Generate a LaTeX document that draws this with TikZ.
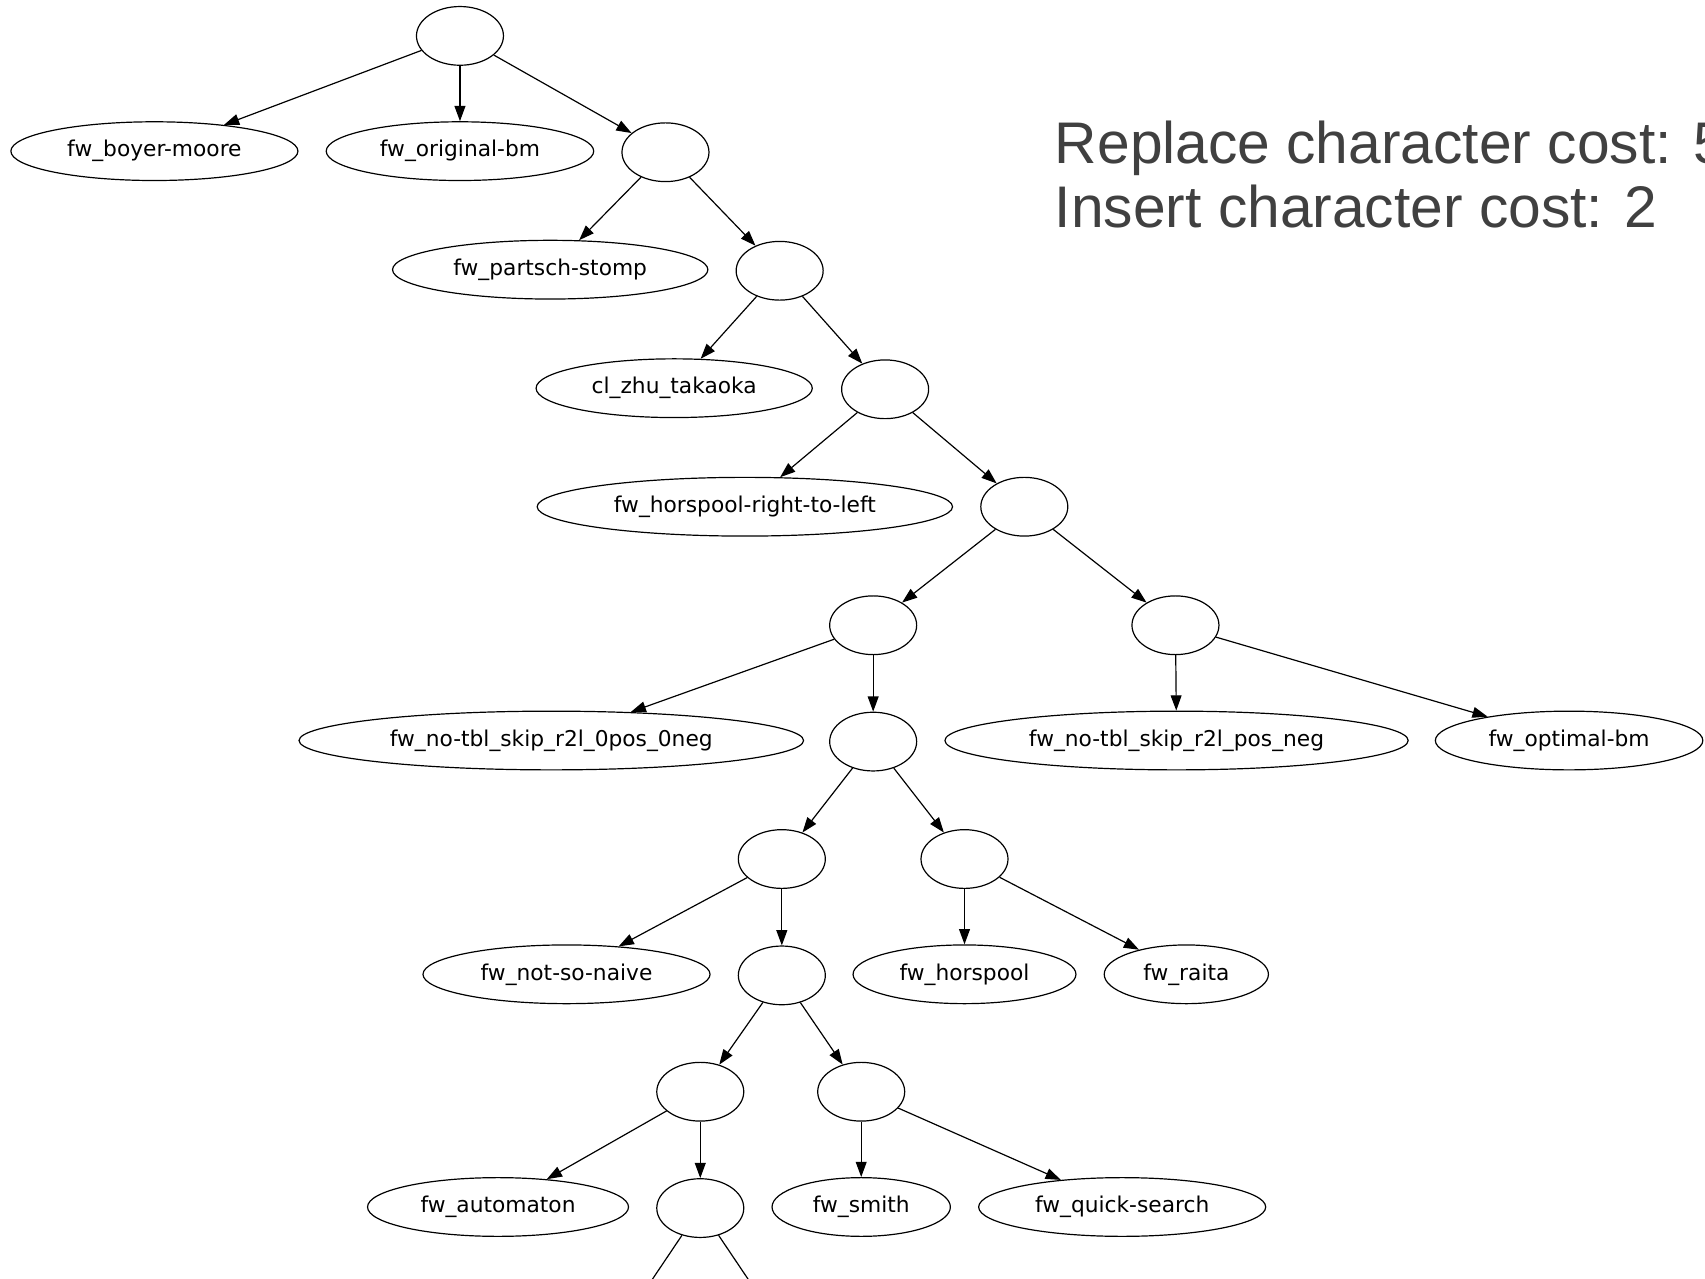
\documentclass[tikz,border=0pt]{standalone}
\usepackage{fontspec}
\setmainfont{DejaVu Sans}
\newfontfamily\bigfont{Liberation Sans}
\usetikzlibrary{shapes.geometric,arrows.meta}
\definecolor{captxt}{HTML}{404040}
\tikzset{
  lbl/.style={draw, ellipse, minimum height=54pt, inner sep=0pt, line width=1.1pt, font=\fontsize{20}{24}\selectfont},
  blank/.style={draw, ellipse, minimum width=80pt, minimum height=54pt, inner sep=0pt, line width=1.1pt},
  edge/.style={line width=1.1pt, -{Triangle[length=14pt,width=10pt]}},
  captext/.style={anchor=base west, inner sep=0pt, text=captxt, font=\bigfont\fontsize{54}{60}\selectfont}
}
\begin{document}
\begin{tikzpicture}[x=1pt,y=-1pt]
\useasboundingbox (0,0) rectangle (1568,1176);
\clip (0,0) rectangle (1568,1176);
\node[blank] (root) at (423,33) {};
\node[lbl, minimum width=264pt] (bm) at (142,139) {fw\_boyer-moore};
\node[lbl, minimum width=246pt] (ob) at (423,139) {fw\_original-bm};
\node[blank] (n2) at (612,140) {};
\node[lbl, minimum width=290pt] (ps) at (506,248) {fw\_partsch-stomp};
\node[blank] (n3) at (717,249) {};
\node[lbl, minimum width=254pt] (zt) at (620,357) {cl\_zhu\_takaoka};
\node[blank] (n4) at (814,358) {};
\node[lbl, minimum width=382pt] (hr) at (685,466) {fw\_horspool-right-to-left};
\node[blank] (n5) at (942,466) {};
\node[blank] (n6) at (803,575) {};
\node[blank] (n7) at (1081,575) {};
\node[lbl, minimum width=464pt] (nt0) at (507,681) {fw\_no-tbl\_skip\_r2l\_0pos\_0neg};
\node[blank] (n8) at (803,682) {};
\node[lbl, minimum width=426pt] (ntp) at (1082,681) {fw\_no-tbl\_skip\_r2l\_pos\_neg};
\node[lbl, minimum width=246pt] (opt) at (1443,681) {fw\_optimal-bm};
\node[blank] (n9) at (719,790) {};
\node[blank] (n10) at (887,790) {};
\node[lbl, minimum width=264pt] (nsn) at (521,896) {fw\_not-so-naive};
\node[blank] (n11) at (719,897) {};
\node[lbl, minimum width=205pt] (hp) at (887,896) {fw\_horspool};
\node[lbl, minimum width=151pt] (raita) at (1091,896) {fw\_raita};
\node[blank] (n12) at (644,1004) {};
\node[blank] (n13) at (792,1004) {};
\node[lbl, minimum width=240pt] (auto) at (458,1110) {fw\_automaton};
\node[blank] (n14) at (644,1111) {};
\node[lbl, minimum width=164pt] (smith) at (792,1110) {fw\_smith};
\node[lbl, minimum width=264pt] (qs) at (1032,1110) {fw\_quick-search};
\coordinate (c1) at (572,1218);
\coordinate (c2) at (716,1218);
\draw[edge] (root) -- (bm);
\draw[edge] (root) -- (ob);
\draw[edge] (root) -- (n2);
\draw[edge] (n2) -- (ps);
\draw[edge] (n2) -- (n3);
\draw[edge] (n3) -- (zt);
\draw[edge] (n3) -- (n4);
\draw[edge] (n4) -- (hr);
\draw[edge] (n4) -- (n5);
\draw[edge] (n5) -- (n6);
\draw[edge] (n5) -- (n7);
\draw[edge] (n6) -- (nt0);
\draw[edge] (n6) -- (n8);
\draw[edge] (n7) -- (ntp);
\draw[edge] (n7) -- (opt);
\draw[edge] (n8) -- (n9);
\draw[edge] (n8) -- (n10);
\draw[edge] (n9) -- (nsn);
\draw[edge] (n9) -- (n11);
\draw[edge] (n10) -- (hp);
\draw[edge] (n10) -- (raita);
\draw[edge] (n11) -- (n12);
\draw[edge] (n11) -- (n13);
\draw[edge] (n12) -- (auto);
\draw[edge] (n12) -- (n14);
\draw[edge] (n13) -- (smith);
\draw[edge] (n13) -- (qs);
\draw[line width=1.1pt] (n14) -- (c1);
\draw[line width=1.1pt] (n14) -- (c2);
\node[captext] (t1) at (970,150) {Replace character cost: 5};
\node[captext] (t2) at (970,209) {Insert character cost: 2};
\end{tikzpicture}
\end{document}
